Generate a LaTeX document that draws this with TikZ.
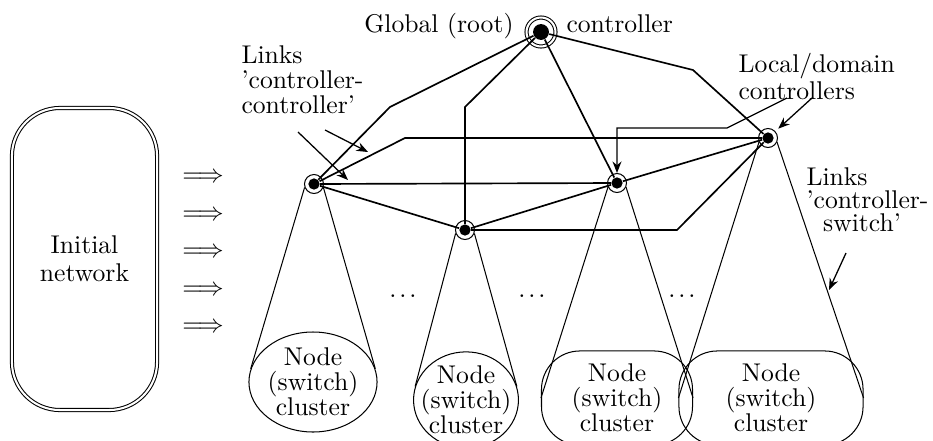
\documentclass[tikz,border=0pt]{standalone}
\usetikzlibrary{shapes.geometric,arrows.meta}
\tikzset{
  ctrl/.style={circle,draw=black,thin,minimum size=7.4pt,inner sep=0pt},
  dot/.style={circle,fill=black,minimum size=4.4pt,inner sep=0pt},
  link/.style={draw=black,line width=0.65pt},
  cone/.style={draw=black,thin},
  cluster/.style={draw=black,thin,align=center,inner sep=0pt,font=\fontsize{10}{9.75}\selectfont},
  lbl/.style={align=left,inner sep=0pt,anchor=north west},
  >={Stealth[length=4.5pt,width=3.5pt]}
}
\newcommand{\gapdots}{.\kern1.1pt.\kern1.1pt.}
\begin{document}
\begin{tikzpicture}[x=0.39pt,y=-0.39pt]
\useasboundingbox (0,0) rectangle (933,440);
\clip (0,0) rectangle (933,440);

\node[draw=black,thin,double,double distance=0.8pt,rounded corners=18.7pt,minimum width=56.6pt,minimum height=117.8pt,align=center,font=\fontsize{10}{11}\selectfont] (init) at (84.5,259) {Initial\\network};
\foreach \i in {0,...,4}
  \node (imp\i) at (203,178+37.5*\i) {$\Longrightarrow$};

\node[circle,draw=black,thin,double,double distance=0.8pt,minimum size=11.3pt,inner sep=0pt] (rootring) at (541,32) {};
\node[dot,minimum size=6.2pt] (root) at (541,32) {};
\node[anchor=base east,inner sep=0pt] (glob) at (514,32) {Global (root)};
\node[anchor=base west,inner sep=0pt] (ctl) at (566,32) {controller};

\node[ctrl] (c1) at (314,184) {};
\node[dot] (d1) at (314,184) {};
\node[ctrl] (c2) at (465,230) {};
\node[dot] (d2) at (465,230) {};
\node[ctrl] (c3) at (617,183) {};
\node[dot] (d3) at (617,183) {};
\node[ctrl] (c4) at (768,138) {};
\node[dot] (d4) at (768,138) {};

\coordinate (b1) at (390,107);
\coordinate (b2) at (465,107);
\coordinate (b4) at (693,70);
\coordinate (b14) at (405,138);
\coordinate (b24) at (677,230);

\draw[link] (root) -- (b1) -- (d1);
\draw[link] (root) -- (b2) -- (d2);
\draw[link] (root) -- (d3);
\draw[link] (root) -- (b4) -- (d4);
\draw[link] (d1) -- (d3);
\draw[link] (d1) -- (b14) -- (d4);
\draw[link] (d1) -- (d2);
\draw[link] (d2) -- (d3);
\draw[link] (d3) -- (d4);
\draw[link] (d2) -- (b24) -- (d4);

\node[cluster,ellipse,minimum width=49.9pt,minimum height=39pt] (k1) at (313,382) {Node\\(switch)\\cluster};
\node[cluster,ellipse,inner xsep=-3.2pt,minimum height=37.4pt] (k2) at (466,400) {Node\\(switch)\\cluster};
\node[cluster,rounded corners=15pt,minimum width=58.9pt,minimum height=36.7pt] (k3) at (617,398) {Node\\(switch)\\cluster};
\node[cluster,rounded corners=15pt,minimum width=71.8pt,minimum height=36.7pt] (k4) at (771,398) {Node\\(switch)\\cluster};

\draw[cone] (c1.200) -- (k1.168);
\draw[cone] (c1.-20) -- (k1.12);
\draw[cone] (c2.200) -- (k2.165);
\draw[cone] (c2.-20) -- (k2.15);
\draw[cone] (c3.205) -- (k3.west);
\draw[cone] (c3.-25) -- (k3.east);
\draw[cone] (c4.205) -- (k4.west);
\draw[cone] (c4.-25) -- (k4.east);

\node (dots1) at (403,296) {\gapdots};
\node (dots2) at (532,296) {\gapdots};
\node (dots3) at (682,296) {\gapdots};

\node[lbl,font=\fontsize{10}{9.75}\selectfont] (lcc) at (241,45) {Links\\'controller-\\controller'};
\node[lbl,font=\fontsize{10}{8.5}\selectfont] (lloc) at (738,53) {Local/domain\\controllers};
\node[lbl,font=\fontsize{10}{9}\selectfont] (lcs) at (806,167) {Links\\'controller-\\\hspace*{6.5pt}switch'};

\coordinate (a1s) at (298,132);
\coordinate (a1e) at (348,180);
\coordinate (a2s) at (325,130);
\coordinate (a2e) at (368,152);
\coordinate (a3s) at (812,98);
\coordinate (a4s) at (787,98);
\coordinate (a4b) at (727,128);
\coordinate (a5s) at (846,253);
\coordinate (a5e) at (829,290);

\draw[->,line width=0.5pt] (a1s) -- (a1e);
\draw[->,line width=0.5pt] (a2s) -- (a2e);
\draw[->,line width=0.5pt,shorten >=1.5pt] (a3s) -- (c4);
\draw[->,line width=0.5pt] (a4s) -- (a4b) -- (c3 |- a4b) -- (c3);
\draw[->,line width=0.5pt] (a5s) -- (a5e);
\end{tikzpicture}
\end{document}
